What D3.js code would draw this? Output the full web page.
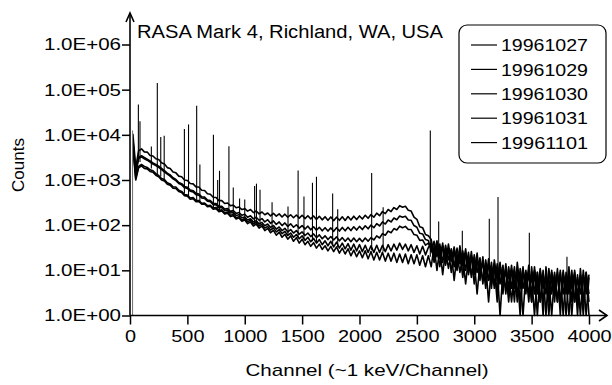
<!DOCTYPE html>
<html>
<head>
<meta charset="utf-8">
<script src="https://cdn.jsdelivr.net/npm/d3@7"></script>
<style>
  html, body { margin: 0; padding: 0; background: #fff; }
  svg text { font-family: "Liberation Sans", Arial, sans-serif; fill: #000; }
</style>
</head>
<body>
<div id="chart"></div>
<script>
// channel grid (one sample every 25 channels)
const channels = d3.range(25, 4001, 25);

// counts, 10 samples per row = 250 channels per row
const s19961027 = [
  10500, 1900, 4400, 4900, 4200, 4150, 3500, 3400, 2950, 2850,
  2400, 2250, 1880, 1790, 1500, 1440, 1220, 1180, 1000, 975,
  835, 820, 705, 700, 595, 585, 495, 485, 415, 410,
  350, 350, 302, 310, 270, 278, 243, 252, 222, 232,
  205, 222, 190, 206, 178, 196, 170, 186, 160, 182,
  158, 178, 152, 175, 150, 170, 146, 168, 143, 166,
  140, 162, 138, 160, 134, 157, 131, 154, 128, 152,
  126, 150, 128, 153, 127, 155, 130, 158, 133, 160,
  137, 166, 142, 172, 150, 185, 162, 200, 180, 222,
  200, 245, 222, 270, 250, 262, 215, 205, 150, 135,
  92, 88, 62, 58, 48, 22, 45, 18, 40, 14,
  38, 16, 33, 11, 35, 13, 30, 9, 26, 8,
  24, 6, 20, 5, 18, 4, 17, 6, 15, 3,
  14, 4, 13, 2, 15, 4, 12, 3, 13, 2,
  12, 3, 11, 1, 12, 3, 10, 2, 11, 1,
  10, 3, 12, 2, 10, 1, 11, 2, 9, 3
];
const s19961029 = [
  8000, 1500, 3200, 3450, 3150, 2900, 2650, 2400, 2200, 2020,
  1800, 1620, 1420, 1300, 1120, 1030, 880, 830, 720, 690,
  600, 580, 505, 490, 425, 418, 360, 352, 305, 300,
  262, 262, 228, 232, 202, 210, 182, 190, 166, 174,
  150, 162, 138, 150, 128, 140, 118, 132, 110, 124,
  104, 118, 98, 112, 94, 107, 90, 102, 86, 98,
  82, 95, 79, 92, 77, 90, 75, 88, 74, 87,
  73, 88, 74, 89, 75, 90, 76, 92, 78, 94,
  80, 97, 83, 101, 88, 108, 96, 118, 106, 130,
  118, 144, 132, 160, 150, 158, 130, 128, 98, 90,
  66, 64, 48, 46, 26, 44, 20, 38, 15, 36,
  17, 30, 12, 31, 14, 27, 10, 25, 7, 22,
  9, 19, 5, 17, 6, 15, 4, 14, 5, 13,
  3, 12, 4, 12, 2, 11, 4, 10, 2, 12,
  3, 9, 2, 10, 1, 11, 3, 9, 2, 10,
  1, 9, 3, 10, 2, 8, 1, 10, 3, 8
];
const s19961030 = [
  7000, 1300, 3000, 3250, 2950, 2750, 2500, 2250, 2080, 1900,
  1700, 1520, 1350, 1220, 1060, 970, 840, 780, 680, 650,
  565, 545, 475, 460, 400, 392, 338, 330, 285, 282,
  245, 244, 212, 214, 186, 190, 164, 170, 146, 152,
  130, 138, 118, 126, 106, 115, 97, 106, 89, 98,
  82, 91, 76, 85, 71, 80, 67, 76, 63, 71,
  59, 67, 56, 64, 53, 61, 50, 58, 48, 56,
  47, 55, 45, 53, 44, 52, 43, 52, 43, 51,
  43, 52, 44, 53, 47, 58, 52, 65, 60, 74,
  68, 84, 78, 95, 88, 94, 80, 80, 62, 60,
  46, 47, 36, 40, 30, 18, 42, 21, 34, 13,
  30, 19, 28, 10, 26, 15, 22, 8, 21, 10,
  18, 7, 16, 8, 13, 5, 14, 3, 12, 6,
  11, 3, 10, 5, 11, 2, 9, 5, 10, 3,
  9, 1, 10, 4, 8, 2, 9, 4, 8, 2,
  9, 1, 8, 4, 9, 2, 8, 1, 9, 2
];
const s19961031 = [
  6000, 1100, 2000, 2200, 2000, 1900, 1680, 1600, 1380, 1260,
  1080, 1020, 870, 820, 710, 700, 595, 560, 478, 462,
  400, 408, 350, 352, 305, 310, 270, 275, 238, 245,
  212, 218, 188, 195, 166, 172, 146, 154, 130, 140,
  118, 128, 106, 115, 95, 104, 86, 94, 78, 87,
  71, 80, 65, 73, 59, 67, 54, 62, 50, 58,
  46, 54, 43, 51, 40, 48, 37, 45, 35, 44,
  33, 42, 31, 40, 30, 39, 28, 38, 27, 37,
  26, 36, 25, 35, 25, 36, 25, 36, 26, 37,
  27, 38, 28, 40, 29, 38, 27, 37, 25, 35,
  23, 34, 22, 32, 40, 15, 36, 12, 33, 19,
  28, 9, 30, 14, 24, 7, 23, 12, 19, 5,
  17, 9, 15, 4, 14, 7, 12, 2, 13, 5,
  10, 2, 11, 4, 9, 1, 10, 4, 8, 2,
  10, 4, 8, 2, 9, 1, 8, 3, 9, 2,
  8, 4, 7, 1, 8, 3, 7, 2, 8, 1
];
const s19961101 = [
  5500, 1000, 1850, 2050, 1800, 1760, 1540, 1480, 1270, 1180,
  1000, 950, 810, 770, 660, 650, 555, 530, 450, 440,
  375, 385, 330, 335, 290, 295, 255, 262, 225, 232,
  198, 206, 176, 183, 155, 162, 137, 145, 122, 130,
  108, 118, 96, 106, 86, 95, 76, 85, 68, 77,
  60, 70, 54, 63, 49, 58, 44, 53, 40, 49,
  37, 44, 34, 41, 31, 38, 29, 35, 27, 34,
  26, 33, 24, 31, 23, 30, 21, 28, 20, 27,
  19, 27, 18, 26, 17, 25, 17, 25, 16, 24,
  16, 24, 15, 23, 15, 23, 14, 22, 14, 22,
  13, 21, 12, 21, 12, 35, 10, 31, 8, 28,
  11, 25, 6, 23, 9, 20, 5, 19, 8, 16,
  3, 15, 6, 13, 2, 12, 5, 11, 1, 10,
  4, 9, 2, 10, 3, 8, 1, 9, 3, 8,
  1, 9, 2, 8, 3, 7, 1, 8, 2, 9,
  3, 7, 1, 8, 2, 7, 3, 8, 1, 7
];

const seriesNames = ["19961027", "19961029", "19961030", "19961031", "19961101"];
const seriesValues = [s19961027, s19961029, s19961030, s19961031, s19961101];

// gamma lines: [channel, continuum under the line, top of the line]
const peaks = [
  [22, 1, 12500], [73, 2500, 47000], [87, 2500, 20000], [186, 1800, 5500],
  [238, 1300, 141000], [268, 1200, 9000], [298, 1000, 9600], [474, 500, 13500],
  [510, 450, 17000], [581, 350, 44000], [609, 330, 2200], [727, 240, 10000],
  [764, 220, 1000], [780, 210, 1600], [862, 180, 5600], [900, 165, 680],
  [955, 150, 390], [1000, 130, 370], [1086, 105, 740], [1102, 100, 830],
  [1133, 95, 610], [1238, 80, 320], [1377, 60, 260], [1465, 52, 1620],
  [1516, 48, 430], [1590, 44, 870], [1625, 42, 1180], [1766, 35, 500],
  [1810, 33, 225], [2106, 28, 1420], [2206, 26, 250], [2617, 20, 12400],
  [2690, 15, 120], [2896, 10, 75], [3131, 6, 138], [3207, 5, 420],
  [3480, 4, 68], [3808, 3, 20]
];

const xTicks = [0, 500, 1000, 1500, 2000, 2500, 3000, 3500, 4000];
const yTicks = [1, 10, 100, 1e3, 1e4, 1e5, 1e6];

const title = "RASA Mark 4, Richland, WA, USA";
const xLabel = "Channel (~1 keV/Channel)";
const yLabel = "Counts";

const width = 612, height = 385;

const svg = d3.select("#chart").append("svg")
  .attr("width", width)
  .attr("height", height);

svg.append("rect").attr("width", width).attr("height", height).attr("fill", "#fff");

const x = d3.scaleLinear().domain([0, 4000]).range([130, 589]);
const y = d3.scaleLog().domain([1, 1e6]).range([315.5, 44.5]).clamp(true);

// the source picture is stretched sideways, so widen text to match
function widen(sel, w) {
  sel.each(function () {
    const natural = this.getComputedTextLength();
    d3.select(this)
      .attr("textLength", typeof w === "number" ? w : natural * 1.17)
      .attr("lengthAdjust", "spacingAndGlyphs");
  });
}

// spectra
const line = d3.line()
  .x((d, i) => x(channels[i]))
  .y(d => y(d));

const plot = svg.append("g");
seriesValues.forEach(vals => {
  plot.append("path")
    .datum(vals)
    .attr("fill", "none")
    .attr("stroke", "#000")
    .attr("stroke-width", 1.6)
    .attr("stroke-linejoin", "round")
    .attr("d", line);
});

plot.selectAll(".peak")
  .data(peaks)
  .enter().append("line")
  .attr("class", "peak")
  .attr("x1", d => x(d[0]))
  .attr("x2", d => x(d[0]))
  .attr("y1", d => y(d[1]))
  .attr("y2", d => y(d[2]))
  .attr("stroke", d => d[1] <= 1 ? "#777" : "#000")
  .attr("stroke-width", 1.1);

// y axis
const yAxis = svg.append("g")
  .attr("transform", "translate(130,0)")
  .call(d3.axisLeft(y)
    .tickValues(yTicks)
    .tickSize(8)
    .tickPadding(1)
    .tickFormat(d => "1.0E+" + String(Math.round(Math.log10(d))).padStart(2, "0")));
yAxis.select(".domain").remove();
yAxis.selectAll(".tick line").attr("stroke", "#000").attr("stroke-width", 1.5);
yAxis.selectAll(".tick text")
  .attr("font-size", 17)
  .attr("font-family", "Liberation Sans, Arial, sans-serif")
  .call(widen, 77);

// x axis
const xAxis = svg.append("g")
  .attr("transform", "translate(0,315.5)")
  .call(d3.axisBottom(x)
    .tickValues(xTicks)
    .tickSize(9)
    .tickPadding(5)
    .tickFormat(d3.format("d")));
xAxis.select(".domain").remove();
xAxis.selectAll(".tick line").attr("stroke", "#000").attr("stroke-width", 1.5);
xAxis.selectAll(".tick text")
  .attr("font-size", 17)
  .attr("font-family", "Liberation Sans, Arial, sans-serif")
  .call(widen);

// axis lines with open arrow heads
const axisLines = svg.append("g")
  .attr("stroke", "#000")
  .attr("stroke-width", 1.6)
  .attr("fill", "none");
axisLines.append("path").attr("d", `M130,${y(1)}V13`);
axisLines.append("path").attr("d", "M126,22L130,13L134,22");
axisLines.append("path").attr("d", `M130,${y(1)}H607`);
axisLines.append("path").attr("d", `M599,${y(1) - 5.5}L607,${y(1)}L599,${y(1) + 5.5}`);

// title
svg.append("text")
  .attr("x", 137)
  .attr("y", 38)
  .attr("font-size", 18)
  .text(title)
  .call(widen, 306);

// axis titles
svg.append("text")
  .attr("x", 367)
  .attr("y", 376)
  .attr("text-anchor", "middle")
  .attr("font-size", 17)
  .text(xLabel)
  .call(widen, 243);

svg.append("text")
  .attr("transform", "translate(24,165) rotate(-90)")
  .attr("text-anchor", "middle")
  .attr("font-size", 17)
  .text(yLabel);

// legend
const legend = svg.append("g");
legend.append("rect")
  .attr("x", 459).attr("y", 25)
  .attr("width", 147).attr("height", 138)
  .attr("rx", 8)
  .attr("fill", "#fff")
  .attr("stroke", "#000")
  .attr("stroke-width", 1.2);

const items = legend.selectAll(".legend-item")
  .data(seriesNames)
  .enter().append("g")
  .attr("class", "legend-item")
  .attr("transform", (d, i) => `translate(0,${45 + i * 24.4})`);

items.append("line")
  .attr("x1", 471).attr("x2", 497)
  .attr("stroke", "#000")
  .attr("stroke-width", 1.2);

items.append("text")
  .attr("x", 501)
  .attr("dy", "0.36em")
  .attr("font-size", 17)
  .text(d => d)
  .call(widen, 87);
</script>
</body>
</html>
